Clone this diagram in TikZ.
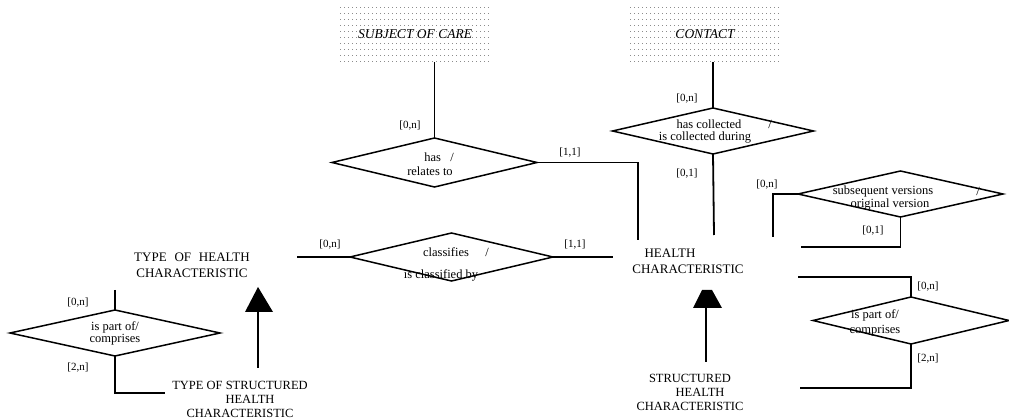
\documentclass[tikz,border=0pt]{standalone}
\usepackage{fontspec}
\setmainfont{Liberation Serif}
\usetikzlibrary{shapes.geometric}
\begin{document}
\begin{tikzpicture}[x=1pt,y=-1pt,
  ent/.style={font=\fontsize{13}{16}\selectfont, align=center, inner sep=0},
  extent/.style={font=\fontsize{13.5}{14}\selectfont\itshape, inner sep=0, minimum width=150, minimum height=56},
  relbox/.style={draw, diamond, line width=1.5, inner sep=0, outer sep=0},
  reltext/.style={font=\fontsize{12.5}{13}\selectfont, inner sep=0},
  card/.style={font=\fontsize{11}{12}\selectfont, inner sep=0},
  conn/.style={line width=1.8},
  dotc/.style={fill=black!45}]
\useasboundingbox (0,0) rectangle (1009,419);

% dotted external entity boxes
\foreach \bx in {340,630} {
  \foreach \i in {0,...,37} {
    \foreach \j in {0,...,9} {
      \fill[dotc] (\bx+4*\i, 7+6*\j) rectangle ++(1.3,1);
    }
  }
}
\node[extent] (subj) at (415,34) {SUBJECT OF CARE};
\node[extent] (cont) at (705,34) {CONTACT};

% entities
\node[ent] (thc) at (192,265) {TYPE\hspace{0.35em} OF\hspace{0.35em} HEALTH\\CHARACTERISTIC};
\node[ent] (hc) at (688,261) {HEALTH\hspace*{36pt}\\CHARACTERISTIC};
\node[ent, font=\fontsize{12.5}{14}\selectfont] (tshc) at (240,399)
  {TYPE OF STRUCTURED\\\hspace*{20pt}HEALTH\\CHARACTERISTIC};
\node[ent, font=\fontsize{12.5}{14}\selectfont] (shc) at (690,392)
  {STRUCTURED\\\hspace*{20pt}HEALTH\\CHARACTERISTIC};

% relationship diamonds
\node[relbox, minimum width=205, minimum height=49] (r1) at (434.5,162.5) {};
\node[relbox, minimum width=201, minimum height=46] (r2) at (713,131) {};
\node[relbox, minimum width=203, minimum height=48] (r3) at (451.5,257) {};
\node[relbox, minimum width=205, minimum height=46] (r4) at (900.5,194) {};
\node[relbox, minimum width=210, minimum height=46] (r5) at (115,333) {};
\node[relbox, minimum width=196, minimum height=47] (r6) at (911,320.5) {};

% relationship texts
\node[reltext] (r1a) at (439,157) {has \ \ /};
\node[reltext] (r1b) at (430,171) {relates to};
\node[reltext] (r2a) at (709,124) {has collected};
\node[reltext] (r2s) at (770,124) {/};
\node[reltext] (r2b) at (705,138) {is collected during};
\node[reltext] (r3a) at (446,252) {classifies};
\node[reltext] (r3s) at (487,252) {/};
\node[reltext] (r3b) at (441,275) {is classified by};
\node[reltext] (r4a) at (883,191) {subsequent versions};
\node[reltext] (r4s) at (978,191) {/};
\node[reltext] (r4b) at (890,205) {original version};
\node[reltext] (r5a) at (115,327) {is part of/};
\node[reltext] (r5b) at (115,340) {comprises};
\node[reltext] (r6a) at (875,315) {is part of/};
\node[reltext] (r6b) at (875,331) {comprises};

% cardinalities
\node[card] (c1) at (410,126) {[0,n]};
\node[card] (c2) at (570,153) {[1,1]};
\node[card] (c3) at (687,99) {[0,n]};
\node[card] (c4) at (687,174) {[0,1]};
\node[card] (c5) at (767,185) {[0,n]};
\node[card] (c6) at (873,231) {[0,1]};
\node[card] (c7) at (330,245) {[0,n]};
\node[card] (c8) at (575,245) {[1,1]};
\node[card] (c9) at (78,303) {[0,n]};
\node[card] (c10) at (78,368) {[2,n]};
\node[card] (c11) at (928,287) {[0,n]};
\node[card] (c12) at (928,359) {[2,n]};

% connector end points
\coordinate (hcA) at (638,240);
\coordinate (hcB) at (714,235);
\coordinate (thcR) at (297,257);
\coordinate (hcL) at (613,257);
\coordinate (r4in) at (773,237);
\coordinate (r4out) at (801,247);
\coordinate (r5in) at (115,290);
\coordinate (r5out) at (165,393);
\coordinate (r6in) at (798,277);
\coordinate (r6out) at (800,388);

% connectors
\draw[conn] (subj.south -| r1.north) -- (r1.north);
\draw[conn] (r1.east) -| (hcA);
\draw[conn] (cont.south -| r2.north) -- (r2.north);
\draw[conn] (r2.south) -- (hcB);
\draw[conn] (thcR) -- (r3.west);
\draw[conn] (r3.east) -- (hcL);
\draw[conn] (r4in) |- (r4.west);
\draw[conn] (r4.south) |- (r4out);
\draw[conn] (r5in) -- (r5.north);
\draw[conn] (r5.south) |- (r5out);
\draw[conn] (r6in) -| (r6.north);
\draw[conn] (r6.south) |- (r6out);

% subtype arrows
\coordinate (tshcT) at (258,368);
\coordinate (thcB) at (258,312);
\draw[conn] (tshcT) -- (thcB);
\fill (245,312) -- (258,287) -- (273,312) -- cycle;
\coordinate (shcT) at (706,362);
\coordinate (hcBot) at (706,308);
\draw[conn] (shcT) -- (hcBot);
\fill (693,308) -- (702,290) -- (712,290) -- (722,308) -- cycle;
\end{tikzpicture}
\end{document}
